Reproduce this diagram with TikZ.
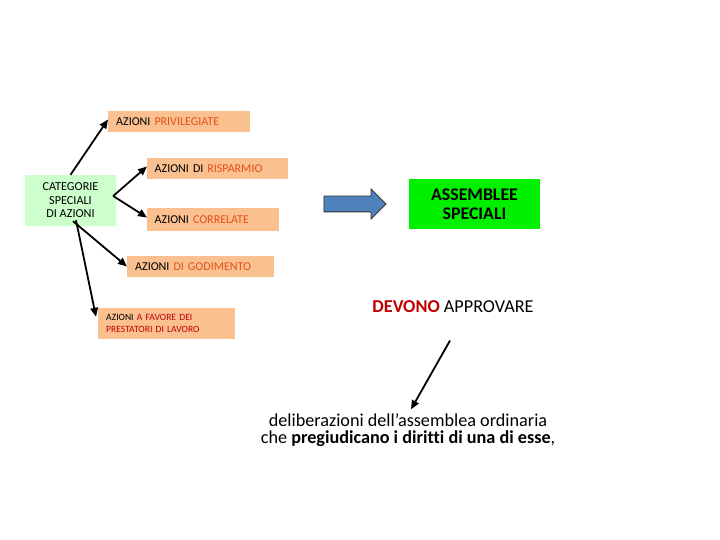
\documentclass[tikz,border=0pt]{standalone}
\usepackage{fontspec}
\setmainfont{Carlito}[Ligatures=NoCommon]
\usetikzlibrary{shapes,arrows,arrows.meta}
\definecolor{peach}{RGB}{250,192,144}
\definecolor{palegreen}{RGB}{204,255,204}
\definecolor{brightgreen}{RGB}{0,240,0}
\definecolor{rust}{RGB}{228,80,24}
\definecolor{darkred}{RGB}{192,0,0}
\definecolor{steel}{RGB}{79,129,189}

\begin{document}
\begin{tikzpicture}[x=1pt,y=-1pt]
        % categorie speciali di azioni -> assemblee speciali
        \tikzstyle{azione} = [fill=peach,anchor=west,align=left,inner xsep=8pt,inner ysep=0pt,minimum height=21pt,font=\fontsize{12}{13}\selectfont];
        \tikzstyle{line} = [draw,->,>={Triangle[length=9pt,width=7.5pt]},line width=1.8pt];

        \useasboundingbox (0,0) rectangle (720,540);

        \node[fill=palegreen,minimum width=91pt,minimum height=51pt,inner sep=0pt,align=center,font=\fontsize{12.2}{13.5}\selectfont] (categorie) at (70.5,200.5) {CATEGORIE\\SPECIALI\\DI AZIONI};
        \node[azione,text width=126pt] (privilegiate) at (108,121.5) {AZIONI \textcolor{rust}{PRIVILEGIATE}};
        \node[azione,text width=126pt,inner xsep=7.5pt] (risparmio) at (147,168.5) {AZIONI DI \textcolor{rust}{RISPARMIO}};
        \node[azione,text width=117pt,inner xsep=7.5pt,minimum height=23pt] (correlate) at (147,219.5) {AZIONI \textcolor{rust}{CORRELATE}};
        \node[azione,text width=131pt] (godimento) at (127,266.5) {AZIONI \textcolor{rust}{DI GODIMENTO}};
        \node[azione,text width=121pt,minimum height=31pt,font=\fontsize{9.6}{12}\selectfont] (prestatori) at (98,323.5) {AZIONI \textcolor{darkred}{A FAVORE DEI}\\\textcolor{darkred}{PRESTATORI DI LAVORO}};

        \node[single arrow,draw=black!80,fill=steel,line width=0.8pt,minimum height=62pt,inner xsep=0pt,inner ysep=7.5pt,single arrow head extend=7pt] (freccia) at (351,204) {};
        \node[fill=brightgreen,minimum width=131pt,minimum height=50pt,inner sep=0pt,align=center,font=\bfseries\fontsize{17.8}{19}\selectfont] (assemblee) at (474.5,204) {ASSEMBLEE\\SPECIALI};

        \node[font=\fontsize{18.2}{19}\selectfont] (devono) at (453,307) {\textcolor{darkred}{\textbf{DEVONO}} APPROVARE};
        \node[align=center,inner sep=0pt,font=\fontsize{18.2}{19}\selectfont] (delib) at (408,430) {deliberazioni dell’assemblea ordinaria\\[-2pt]che \textbf{pregiudicano i diritti di una di esse},};

        \draw[line] (categorie.north) -- ([yshift=2pt]privilegiate.west);
        \draw[line] ([xshift=-3pt,yshift=4.5pt]categorie.east) -- ([yshift=2pt]risparmio.west);
        \draw[line] ([xshift=-3pt,yshift=4.5pt]categorie.east) -- ([yshift=2pt]correlate.west);
        \draw[line] ([xshift=2.5pt,yshift=5pt]categorie.south) -- (godimento.west);
        \draw[line] ([xshift=5.5pt,yshift=6pt]categorie.south) -- ([xshift=-2pt,yshift=-9pt]prestatori.north west);
        \draw[line] ([xshift=-3pt,yshift=-24pt]devono.south) -- ([xshift=3pt,yshift=4pt]delib.north);

    \end{tikzpicture}
\end{document}
